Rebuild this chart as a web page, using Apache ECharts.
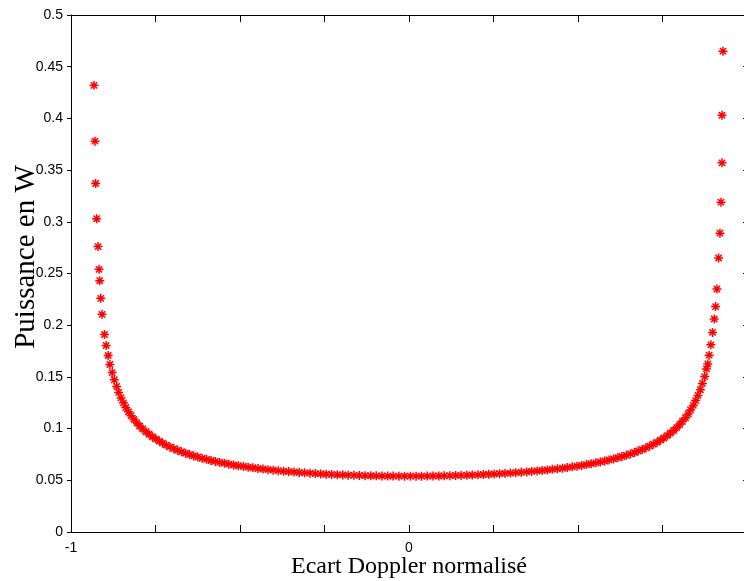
<!DOCTYPE html>
<html>
<head>
<meta charset="utf-8">
<script src="https://cdn.jsdelivr.net/npm/echarts@6/dist/echarts.min.js"></script>
<style>
  html, body { margin: 0; padding: 0; background: #ffffff; }
  #chart { width: 744px; height: 581px; }
</style>
</head>
<body>
<div id="chart"></div>
<script>
// Normalised Doppler offset (left branch, -1 side up to 0)
const leftDoppler = [
  -0.932, -0.929, -0.927, -0.924, -0.920, -0.917, -0.915, -0.912, -0.908, -0.901,
  -0.896, -0.890, -0.885, -0.878, -0.872, -0.865, -0.859, -0.852, -0.845, -0.838,
  -0.830, -0.822, -0.814, -0.805, -0.797, -0.788, -0.778, -0.769, -0.759, -0.749,
  -0.739, -0.729, -0.718, -0.707, -0.696, -0.685, -0.673, -0.661, -0.649, -0.637,
  -0.625, -0.612, -0.599, -0.586, -0.573, -0.560, -0.546, -0.533, -0.519, -0.505,
  -0.490, -0.476, -0.462, -0.447, -0.432, -0.417, -0.402, -0.387, -0.371, -0.356,
  -0.340, -0.325, -0.309, -0.293, -0.277, -0.261, -0.245, -0.229, -0.212, -0.196,
  -0.180, -0.163, -0.147, -0.130, -0.113, -0.097, -0.080, -0.063, -0.047, -0.030,
  -0.013, 0.004
];
// Power in W for the left branch
const leftPower = [
  0.432, 0.378, 0.337, 0.303, 0.276, 0.254, 0.243, 0.226, 0.2105, 0.191,
  0.1804, 0.1707, 0.1620, 0.1542, 0.1472, 0.1408, 0.1350, 0.1297, 0.1249, 0.1204,
  0.1163, 0.1125, 0.1089, 0.1056, 0.1025, 0.0997, 0.0970, 0.0945, 0.0921, 0.0899,
  0.0879, 0.0859, 0.0840, 0.0823, 0.0807, 0.0791, 0.0776, 0.0762, 0.0749, 0.0736,
  0.0725, 0.0713, 0.0703, 0.0692, 0.0683, 0.0673, 0.0665, 0.0656, 0.0648, 0.0641,
  0.0634, 0.0627, 0.0621, 0.0614, 0.0609, 0.0603, 0.0598, 0.0593, 0.0588, 0.0584,
  0.0580, 0.0576, 0.0572, 0.0569, 0.0565, 0.0562, 0.0559, 0.0557, 0.0554, 0.0552,
  0.0550, 0.0548, 0.0547, 0.0545, 0.0544, 0.0543, 0.0542, 0.0541, 0.0541, 0.0540,
  0.0540, 0.0540
];
// Normalised Doppler offset (right branch, 0 up to the +1 side)
const rightDoppler = [
  0.021, 0.037, 0.054, 0.071, 0.088, 0.104, 0.121, 0.138, 0.154, 0.171,
  0.187, 0.204, 0.220, 0.236, 0.252, 0.268, 0.284, 0.300, 0.316, 0.332,
  0.348, 0.363, 0.379, 0.394, 0.409, 0.424, 0.439, 0.454, 0.468, 0.483,
  0.497, 0.511, 0.525, 0.539, 0.553, 0.566, 0.579, 0.592, 0.605, 0.618,
  0.630, 0.643, 0.655, 0.667, 0.678, 0.690, 0.701, 0.712, 0.723, 0.734,
  0.744, 0.754, 0.764, 0.773, 0.783, 0.792, 0.801, 0.809, 0.818, 0.826,
  0.833, 0.841, 0.848, 0.855, 0.862, 0.868, 0.875, 0.880, 0.884, 0.888,
  0.893, 0.898, 0.903, 0.907, 0.911, 0.916, 0.920, 0.923, 0.926, 0.926,
  0.929
];
// Power in W for the right branch
const rightPower = [
  0.0540, 0.0540, 0.0541, 0.0542, 0.0542, 0.0543, 0.0545, 0.0546, 0.0547, 0.0549,
  0.0551, 0.0553, 0.0556, 0.0558, 0.0561, 0.0564, 0.0567, 0.0570, 0.0574, 0.0577,
  0.0581, 0.0586, 0.0590, 0.0595, 0.0600, 0.0606, 0.0611, 0.0617, 0.0623, 0.0630,
  0.0637, 0.0644, 0.0652, 0.0660, 0.0669, 0.0678, 0.0687, 0.0697, 0.0707, 0.0718,
  0.0730, 0.0742, 0.0755, 0.0769, 0.0783, 0.0798, 0.0814, 0.0831, 0.0849, 0.0868,
  0.0888, 0.0909, 0.0932, 0.0956, 0.0982, 0.1010, 0.1039, 0.1071, 0.1105, 0.1142,
  0.1181, 0.1224, 0.1271, 0.1321, 0.1376, 0.1437, 0.1503, 0.1577, 0.1625, 0.171,
  0.181, 0.193, 0.206, 0.218, 0.235, 0.265, 0.289, 0.319, 0.357, 0.403,
  0.465
];
// Only these x ticks carry a label
const xLabeledTicks = [-1, 0];

const points = [];
leftDoppler.forEach((x, i) => points.push([x, leftPower[i]]));
rightDoppler.forEach((x, i) => points.push([x, rightPower[i]]));

const asterisk = 'path://M5,0L5,10M0,5L10,5M1.5,1.5L8.5,8.5M1.5,8.5L8.5,1.5';
const tickFont = { fontFamily: 'Liberation Sans, Arial, sans-serif', fontSize: 14, color: '#000' };
const titleFont = 'Liberation Serif, Times New Roman, serif';
const blackLine = { lineStyle: { color: '#000', width: 1 } };

const chart = echarts.init(document.getElementById('chart'), null, { renderer: 'canvas' });
chart.setOption({
  animation: false,
  backgroundColor: '#ffffff',
  grid: { left: 71, top: 15, right: -3, bottom: 49, containLabel: false, outerBoundsMode: 'none' },
  xAxis: [
    {
      type: 'value', position: 'bottom', min: -1, max: 1, interval: 0.25,
      axisLine: { show: true, onZero: false, ...blackLine },
      axisTick: { show: true, inside: true, length: 7, ...blackLine },
      splitLine: { show: false },
      axisLabel: {
        ...tickFont, margin: 9,
        formatter: v => xLabeledTicks.some(t => Math.abs(t - v) < 1e-9) ? String(v) : ''
      }
    },
    {
      type: 'value', position: 'top', min: -1, max: 1, interval: 0.25,
      axisLine: { show: true, onZero: false, ...blackLine },
      axisTick: { show: true, inside: true, length: 7, ...blackLine },
      axisLabel: { show: false }, splitLine: { show: false }
    }
  ],
  yAxis: [
    {
      type: 'value', position: 'left', min: 0, max: 0.5, interval: 0.05,
      axisLine: { show: true, onZero: false, ...blackLine },
      axisTick: { show: true, inside: false, length: 4, ...blackLine },
      splitLine: { show: false },
      axisLabel: { ...tickFont, margin: 8 }
    },
    {
      type: 'value', position: 'right', min: 0, max: 0.5, interval: 0.05,
      axisLine: { show: true, onZero: false, ...blackLine },
      axisTick: { show: true, inside: true, length: 4, ...blackLine },
      axisLabel: { show: false }, splitLine: { show: false }
    }
  ],
  graphic: [
    {
      type: 'text', x: 409, y: 567,
      style: {
        text: 'Ecart Doppler normalisé', font: '24px ' + titleFont,
        fill: '#000', align: 'center', verticalAlign: 'middle'
      }
    },
    {
      type: 'text', x: 26, y: 257, rotation: Math.PI / 2,
      style: {
        text: 'Puissance en W', font: '29px ' + titleFont,
        fill: '#000', align: 'center', verticalAlign: 'middle'
      }
    }
  ],
  series: [{
    type: 'scatter',
    xAxisIndex: 0, yAxisIndex: 0,
    data: points,
    symbol: asterisk,
    symbolSize: 9,
    itemStyle: { color: 'rgba(0,0,0,0)', borderColor: '#ff0000', borderWidth: 1.5, opacity: 1 },
    emphasis: { disabled: true }
  }]
});
</script>
</body>
</html>
